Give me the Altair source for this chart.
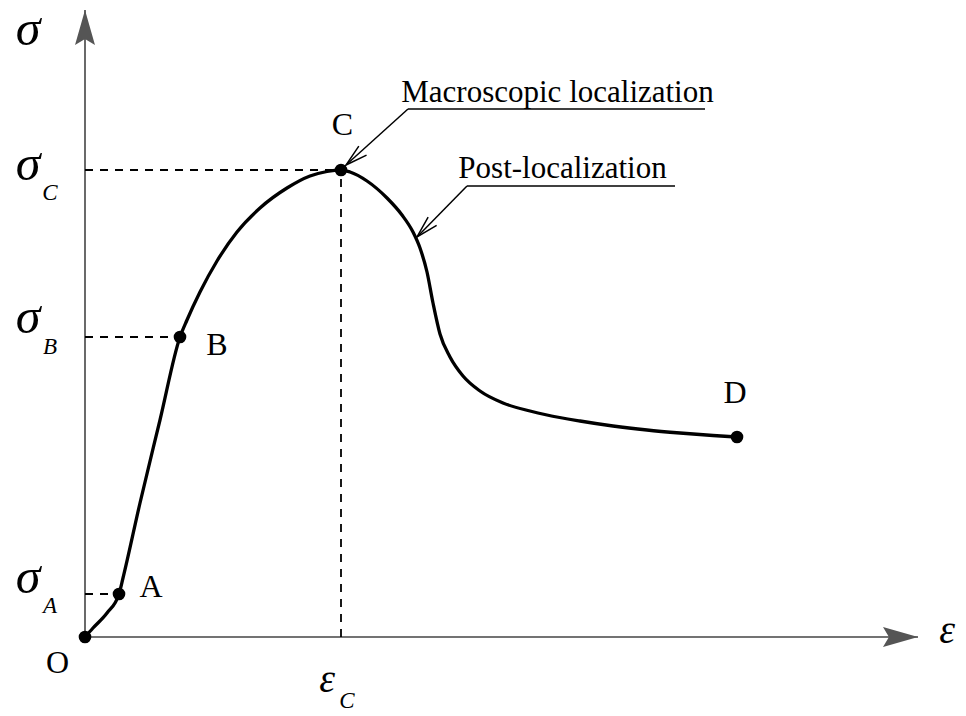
import altair as alt
import pandas as pd

# Stress-strain curve, arbitrary units
strain = [0.00, 0.08, 0.22, 0.34, 0.38, 0.55, 0.75, 0.95, 1.02, 1.15, 1.32, 1.52, 1.75, 2.02, 2.25, 2.42, 2.56,
          2.65, 2.82, 3.02, 3.17, 3.28, 3.35, 3.42, 3.48, 3.55, 3.65, 3.78, 3.95, 4.18, 4.45, 4.62, 4.95, 5.28,
          5.62, 5.95, 6.28, 6.52]
stress = [0.00, 0.09, 0.24, 0.43, 0.59, 1.34, 2.17, 3.00, 3.17, 3.45, 3.76, 4.05, 4.29, 4.49, 4.61, 4.655, 4.67,
          4.65, 4.56, 4.39, 4.22, 4.05, 3.89, 3.65, 3.34, 3.03, 2.80, 2.61, 2.46, 2.34, 2.26, 2.22, 2.16, 2.11,
          2.07, 2.04, 2.015, 2.00]

# Characteristic points on the curve
key_names = ["O", "A", "B", "C", "D"]
key_strain = [0.00, 0.34, 0.95, 2.56, 6.52]
key_stress = [0.00, 0.43, 3.00, 4.67, 2.00]
# label anchor (centre, baseline) for each characteristic point
key_label_x = [-0.275, 0.66, 1.32, 2.575, 6.50]
key_label_y = [-0.36, 0.40, 2.82, 5.02, 2.34]

# Axis extents (arrow tips)
X_TIP = 8.33
Y_TIP = 6.27

# Callouts: text, text centre/baseline, underline span, arrow tip and direction
callout_text = ["Macroscopic localization", "Post-localization"]
callout_tx = [4.725, 4.775]
callout_ty = [5.355, 4.587]
underline_x1 = [3.23, 3.82]
underline_x2 = [6.20, 5.90]
underline_y = [5.28, 4.51]
arrow_tip_x = [2.61, 3.32]
arrow_tip_y = [4.72, 4.00]
arrow_angle = [229.3, 224.4]

FONT = "Liberation Serif"
X_DOMAIN = [-0.85, 8.81]
Y_DOMAIN = [-0.79, 6.37]

xs = alt.Scale(domain=X_DOMAIN, nice=False, zero=False)
ys = alt.Scale(domain=Y_DOMAIN, nice=False, zero=False)


def X(field):
    return alt.X(field, type="quantitative", scale=xs, axis=None)


def Y(field):
    return alt.Y(field, type="quantitative", scale=ys, axis=None)


curve_df = pd.DataFrame({"strain": strain, "stress": stress, "order": range(len(strain))})
key_df = pd.DataFrame({"name": key_names, "strain": key_strain, "stress": key_stress,
                       "lx": key_label_x, "ly": key_label_y})

# Axes with arrowheads
axes_df = pd.DataFrame({"x1": [0.0, 0.0], "y1": [0.0, 0.0], "x2": [X_TIP, 0.0], "y2": [0.0, Y_TIP]})
axes = alt.Chart(axes_df).mark_rule(color="#444444", strokeWidth=1.6).encode(
    x=X("x1"), y=Y("y1"), x2="x2", y2="y2")

heads_df = pd.DataFrame({"x": [X_TIP, 0.0], "y": [0.0, Y_TIP], "angle": [90, 0]})
axis_heads = alt.Chart(heads_df).mark_point(
    shape="M0,0 L0.57,2 L0,1.66 L-0.57,2 Z", size=1225, filled=True,
    color="#555555", opacity=1).encode(
    x=X("x"), y=Y("y"), angle=alt.Angle("angle:Q", scale=None))

# Dashed guides from the stress axis to A, B, C and down from C to the strain axis
g_idx = [1, 2, 3]
guides_df = pd.DataFrame({
    "x1": [0.0] * 3 + [key_strain[3]],
    "y1": [key_stress[i] for i in g_idx] + [0.0],
    "x2": [key_strain[i] for i in g_idx] + [key_strain[3]],
    "y2": [key_stress[i] for i in g_idx] + [key_stress[3]],
})
guides = alt.Chart(guides_df).mark_rule(color="black", strokeWidth=1.8, strokeDash=[8, 7]).encode(
    x=X("x1"), y=Y("y1"), x2="x2", y2="y2")

curve = alt.Chart(curve_df).mark_line(color="black", strokeWidth=3.3, interpolate="monotone").encode(
    x=X("strain"), y=Y("stress"), order="order:Q")

dots = alt.Chart(key_df).mark_circle(color="black", size=160, opacity=1).encode(
    x=X("strain"), y=Y("stress"))

key_text = alt.Chart(key_df).mark_text(font=FONT, fontSize=32, align="center", baseline="alphabetic",
                                       color="black").encode(x=X("lx"), y=Y("ly"), text="name:N")

# Callout leaders
call_df = pd.DataFrame({"text": callout_text, "tx": callout_tx, "ty": callout_ty,
                        "ux1": underline_x1, "ux2": underline_x2, "uy": underline_y,
                        "ax": arrow_tip_x, "ay": arrow_tip_y, "angle": arrow_angle})
underlines = alt.Chart(call_df).mark_rule(color="black", strokeWidth=1.5).encode(
    x=X("ux1"), x2="ux2", y=Y("uy"))
leaders = alt.Chart(call_df).mark_rule(color="black", strokeWidth=1.5).encode(
    x=X("ux1"), y=Y("uy"), x2="ax", y2="ay")
leader_heads = alt.Chart(call_df).mark_point(
    shape="M-0.54,2 L0,0 L0.54,2", size=484, filled=False, color="black",
    strokeWidth=1.5, opacity=1).encode(
    x=X("ax"), y=Y("ay"), angle=alt.Angle("angle:Q", scale=None))
call_text = alt.Chart(call_df).mark_text(font=FONT, fontSize=31, align="center", baseline="alphabetic",
                                         color="black").encode(x=X("tx"), y=Y("ty"), text="text:N")

# Axis symbols
sym_df = pd.DataFrame({
    "text": ["σ", "σ", "σ", "σ"],
    "x": [-0.57, -0.57, -0.57, -0.57],
    "y": [5.92, 4.57, 3.04, 0.44],
})
sym = alt.Chart(sym_df).mark_text(font=FONT, fontStyle="italic", fontSize=50, align="center",
                                  baseline="alphabetic", color="black").encode(
    x=X("x"), y=Y("y"), text="text:N")

eps_df = pd.DataFrame({"text": ["ε", "ε"], "x": [8.62, 2.42], "y": [-0.06, -0.55]})
eps = alt.Chart(eps_df).mark_text(font=FONT, fontStyle="italic", fontSize=40, align="center",
                                  baseline="alphabetic", color="black").encode(
    x=X("x"), y=Y("y"), text="text:N")

sub_df = pd.DataFrame({
    "text": ["C", "B", "A", "C"],
    "x": [-0.35, -0.35, -0.35, 2.62],
    "y": [4.37, 2.83, 0.24, -0.71],
})
subs = alt.Chart(sub_df).mark_text(font=FONT, fontStyle="italic", fontSize=23, align="center",
                                   baseline="alphabetic", color="black").encode(
    x=X("x"), y=Y("y"), text="text:N")

chart = alt.layer(
    axes, axis_heads, guides, curve, dots, key_text,
    underlines, leaders, leader_heads, call_text, sym, eps, subs
).properties(
    width=966, height=716, autosize="none", padding=0, background="white"
).configure_view(stroke=None)

chart.save("out.html", embed_options={"renderer": "svg", "actions": False})
